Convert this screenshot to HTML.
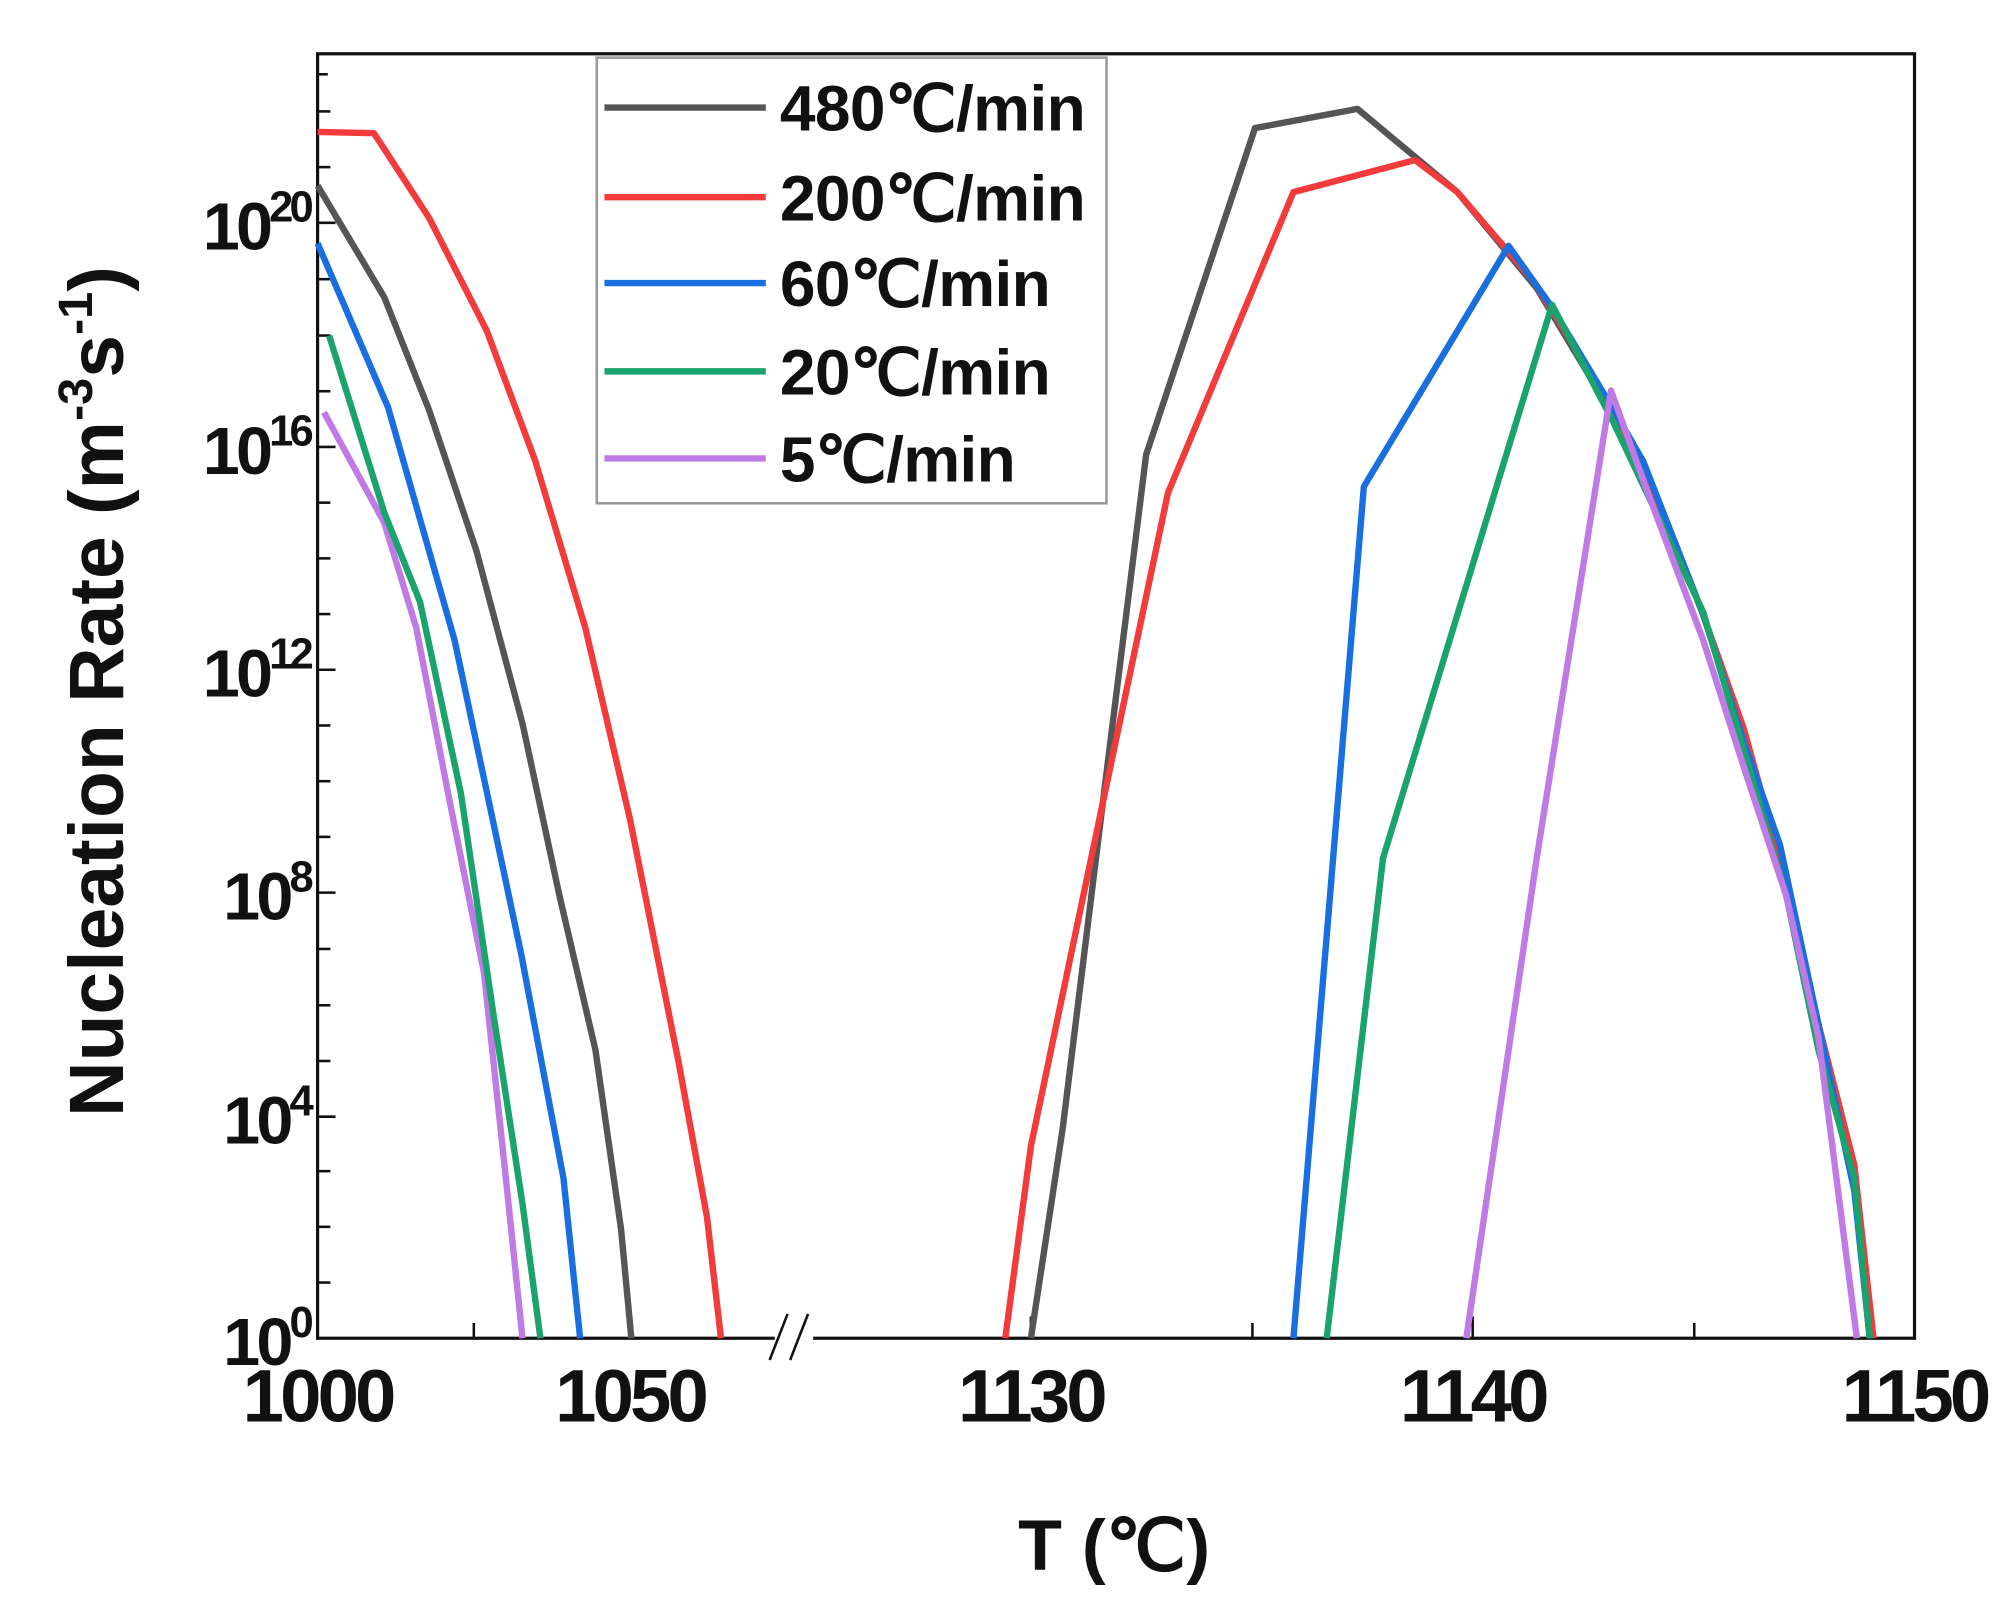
<!DOCTYPE html>
<html><head><meta charset="utf-8"><style>
html,body{margin:0;padding:0;background:#fff;}
svg{display:block;}
text{font-family:"Liberation Sans",sans-serif;font-weight:bold;fill:#111;}
</style></head><body>
<svg width="2008" height="1615" viewBox="0 0 1568 1261.1" xmlns="http://www.w3.org/2000/svg">
<rect x="0" y="0" width="1568" height="1262" fill="#fff"/>
<rect x="248" y="42" width="1247" height="1003" fill="none" stroke="#111" stroke-width="2.5"/>
<g stroke="#111" stroke-width="2">
<line x1="248" y1="1001.5" x2="258" y2="1001.5"/><line x1="248" y1="958" x2="258" y2="958"/><line x1="248" y1="914.5" x2="258" y2="914.5"/><line x1="248" y1="872" x2="262" y2="872"/>
<line x1="248" y1="828.5" x2="258" y2="828.5"/><line x1="248" y1="785" x2="258" y2="785"/><line x1="248" y1="741" x2="258" y2="741"/><line x1="248" y1="697" x2="262" y2="697"/>
<line x1="248" y1="653.5" x2="258" y2="653.5"/><line x1="248" y1="610" x2="258" y2="610"/><line x1="248" y1="566.5" x2="258" y2="566.5"/><line x1="248" y1="523" x2="262" y2="523"/>
<line x1="248" y1="479.5" x2="258" y2="479.5"/><line x1="248" y1="436" x2="258" y2="436"/><line x1="248" y1="392.5" x2="258" y2="392.5"/><line x1="248" y1="349" x2="262" y2="349"/>
<line x1="248" y1="305.5" x2="258" y2="305.5"/><line x1="248" y1="262" x2="258" y2="262"/><line x1="248" y1="218" x2="258" y2="218"/><line x1="248" y1="174" x2="262" y2="174"/>
<line x1="248" y1="130.5" x2="258" y2="130.5"/><line x1="248" y1="87" x2="258" y2="87"/><line x1="248" y1="58" x2="256" y2="58"/>
<line x1="370" y1="1045" x2="370" y2="1033"/><line x1="493" y1="1045" x2="493" y2="1028"/>
<line x1="805" y1="1045" x2="805" y2="1028"/><line x1="978" y1="1045" x2="978" y2="1033"/><line x1="1150" y1="1045" x2="1150" y2="1028"/><line x1="1323" y1="1045" x2="1323" y2="1033"/>
</g>
<rect x="605" y="1038" width="30" height="14" fill="#fff"/>
<g stroke="#111" stroke-width="2"><line x1="601" y1="1062" x2="615" y2="1026"/><line x1="617" y1="1062" x2="631" y2="1026"/></g>
<g fill="none" stroke-width="5" stroke-linejoin="round">
<polyline stroke="#c07ae6" points="253,322 300,408 325,490 350,620 378,760 395,920 408,1045"/>
<polyline stroke="#1aa36a" points="257,262 300,400 328,470 360,620 385,790 408,940 422,1045"/>
<polyline stroke="#1a6fe0" points="248,190 303,318 355,500 407,745 440,920 453,1045"/>
<polyline stroke="#555" points="248,145 300,232 335,320 372,430 408,565 437,700 465,820 485,960 493,1045"/>
<polyline stroke="#f23b3b" points="248,103 292,104 335,170 380,258 418,360 457,490 492,640 530,830 552,950 563,1045"/>
<polyline stroke="#555" points="805,1045 830,880 862,620 895,355 980,100 1060,85 1138,150 1200,225 1260,325 1283,360 1330,480 1360,570 1395,690 1420,800 1448,910 1462,1045"/>
<polyline stroke="#f23b3b" points="785,1045 805,895 850,680 912,385 1010,150 1105,125 1138,150 1198,220 1260,320 1290,380 1330,480 1362,570 1395,690 1420,800 1448,910 1463,1045"/>
<polyline stroke="#1a6fe0" points="1010,1045 1065,380 1178,192 1212,240 1260,320 1283,360 1330,480 1362,580 1390,660 1420,800 1448,930 1460,1045"/>
<polyline stroke="#1aa36a" points="1036,1045 1080,670 1212,238 1260,330 1330,478 1360,580 1395,700 1420,820 1448,920 1460,1045"/>
<polyline stroke="#c07ae6" points="1145,1045 1200,670 1258,305 1285,380 1330,500 1362,600 1395,700 1420,810 1450,1045"/>
</g>
<rect x="466" y="45" width="398" height="348" fill="#fff" stroke="#999" stroke-width="2"/>
<g stroke-width="5">
<line x1="472" y1="84" x2="598" y2="84" stroke="#555"/>
<line x1="472" y1="154" x2="598" y2="154" stroke="#f23b3b"/>
<line x1="472" y1="221" x2="598" y2="221" stroke="#1a6fe0"/>
<line x1="472" y1="290" x2="598" y2="290" stroke="#1aa36a"/>
<line x1="472" y1="358" x2="598" y2="358" stroke="#c07ae6"/>
</g>
<g font-size="50" letter-spacing="-0.5">
<text x="609" y="102">480℃/min</text>
<text x="609" y="172">200℃/min</text>
<text x="609" y="239">60℃/min</text>
<text x="609" y="308">20℃/min</text>
<text x="609" y="376">5℃/min</text>
</g>
<g font-size="52" text-anchor="end" letter-spacing="-3">
<text x="242" y="1066">10<tspan font-size="34" dy="-22">0</tspan></text>
<text x="242" y="893">10<tspan font-size="34" dy="-22">4</tspan></text>
<text x="242" y="718">10<tspan font-size="34" dy="-22">8</tspan></text>
<text x="242" y="544">10<tspan font-size="34" dy="-22">12</tspan></text>
<text x="242" y="370">10<tspan font-size="34" dy="-22">16</tspan></text>
<text x="242" y="195">10<tspan font-size="34" dy="-22">20</tspan></text>
</g>
<g font-size="58" text-anchor="middle" letter-spacing="-3">
<text x="248" y="1110">1000</text>
<text x="492" y="1110">1050</text>
<text x="805" y="1110">1130</text>
<text x="1150" y="1110">1140</text>
<text x="1495" y="1110">1150</text>
</g>
<text x="870" y="1226" font-size="56" text-anchor="middle">T (℃)</text>
<text transform="translate(96,540) rotate(-90)" font-size="60" text-anchor="middle">Nucleation Rate (m<tspan font-size="38" dy="-24">-3</tspan><tspan dy="24">s</tspan><tspan font-size="38" dy="-24">-1</tspan><tspan dy="24">)</tspan></text>
</svg>
</body></html>
